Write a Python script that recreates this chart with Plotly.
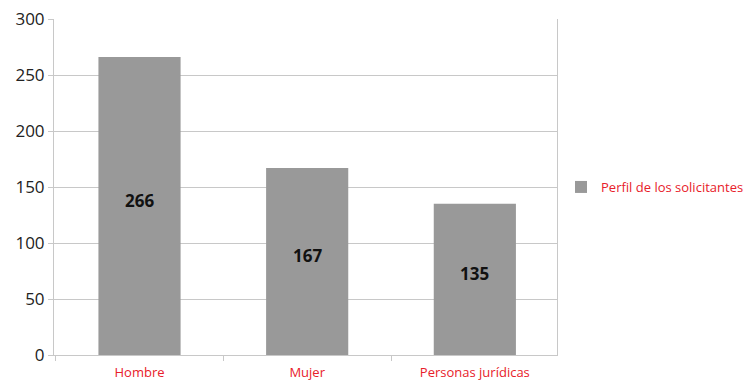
import plotly.graph_objects as go

categories = ["Hombre", "Mujer", "Personas jurídicas"]
values = [266, 167, 135]
series_name = "Perfil de los solicitantes"
y_ticks = [0, 50, 100, 150, 200, 250, 300]

FONT = "Open Sans"
GRID = "#c8c8c8"
RED = "#e8202a"

fig = go.Figure()
fig.add_trace(go.Bar(
    x=categories,
    y=values,
    name=series_name,
    marker=dict(color="#999999", line=dict(width=0)),
    width=0.49,
    showlegend=True,
))

# value labels, centred in each bar and nudged slightly upward
for cat, v in zip(categories, values):
    fig.add_annotation(
        x=cat, y=v / 2, text=str(v), showarrow=False,
        yshift=6,
        font=dict(family=FONT, size=17, color="#111111", weight="bold"),
    )

fig.update_layout(
    width=749,
    height=381,
    margin=dict(l=54, r=192, t=19, b=26, autoexpand=False),
    paper_bgcolor="white",
    plot_bgcolor="white",
    font=dict(family=FONT),
    showlegend=True,
    legend=dict(
        x=1.008, y=0.5, xanchor="left", yanchor="middle",
        font=dict(family=FONT, size=13, color=RED),
        itemwidth=30,
    ),
    xaxis=dict(
        type="category",
        automargin=False,
        showgrid=False,
        showline=True,
        linecolor=GRID,
        linewidth=1,
        ticks="outside",
        tickson="boundaries",
        ticklen=5,
        tickcolor=GRID,
        ticklabelstandoff=5,
        tickfont=dict(family=FONT, size=13, color=RED),
        range=[-0.51, 2.49],
    ),
    yaxis=dict(
        range=[0, 300],
        automargin=False,
        tickvals=y_ticks,
        showgrid=True,
        gridcolor=GRID,
        gridwidth=1,
        showline=True,
        linecolor=GRID,
        linewidth=1,
        mirror=True,
        ticks="outside",
        ticklen=5,
        tickcolor=GRID,
        tickfont=dict(family=FONT, size=17, color="#222222"),
        zeroline=False,
    ),
    bargap=0.5,
)

fig.write_html("out.html")
